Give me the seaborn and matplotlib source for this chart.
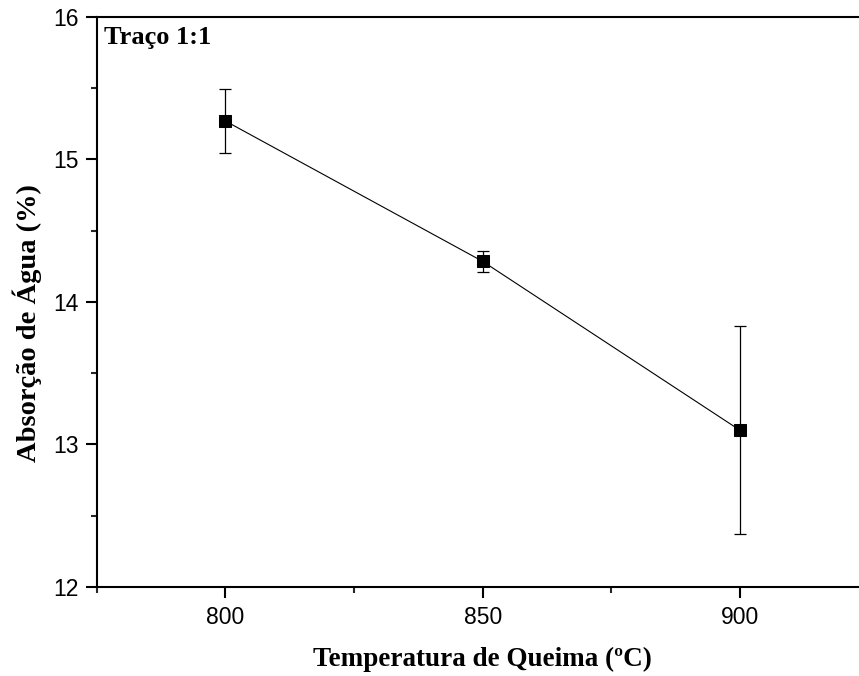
import matplotlib
matplotlib.use("Agg")
import matplotlib.pyplot as plt
from matplotlib.ticker import MultipleLocator
import seaborn as sns
import pandas as pd

# dados
temperatura = [800, 850, 900]
absorcao = [15.27, 14.285, 13.10]
desvio = [0.225, 0.075, 0.73]

df = pd.DataFrame({"temp": temperatura, "abs": absorcao, "err": desvio})

sns.set_style("ticks")
plt.rcParams["font.family"] = ["Liberation Sans", "DejaVu Sans"]
plt.rcParams["text.color"] = "black"
plt.rcParams["axes.labelcolor"] = "black"

fig = plt.figure(figsize=(8.59, 6.76), dpi=100)
ax = fig.add_axes([0.1126, 0.1317, 0.8985, 0.8432])

ax.errorbar(df["temp"], df["abs"], yerr=df["err"], fmt="none",
            ecolor="black", elinewidth=0.9, capsize=4.5, capthick=0.9, zorder=2)
sns.lineplot(data=df, x="temp", y="abs", ax=ax, color="black", linewidth=0.8,
             marker="s", markersize=9, markeredgecolor="black",
             markerfacecolor="black", zorder=3)

ax.set_xlim(775, 925)
ax.set_ylim(12, 16)
ax.xaxis.set_major_locator(MultipleLocator(50))
ax.xaxis.set_minor_locator(MultipleLocator(25))
ax.yaxis.set_major_locator(MultipleLocator(1))
ax.yaxis.set_minor_locator(MultipleLocator(0.5))

for s in ax.spines.values():
    s.set_linewidth(1.5)
    s.set_color("black")

ax.tick_params(which="major", direction="out", length=8, width=1.5,
               labelsize=16.5, colors="black", top=False, right=False)
ax.tick_params(axis="x", which="major", pad=6)
ax.tick_params(axis="y", which="major", pad=5)
ax.tick_params(which="minor", direction="out", length=4, width=1.5,
               top=False, right=False)

serif = ["Liberation Serif", "DejaVu Serif"]
ax.set_xlabel("Temperatura de Queima (ºC)", family=serif, weight="bold", size=19.5)
ax.set_ylabel("Absorção de Água (%)", family=serif, weight="bold", size=20.5)
ax.xaxis.set_label_coords(0.5, -0.105)
ax.yaxis.set_label_coords(-0.071, 0.463)

ax.text(0.01, 0.985, "Traço 1:1", transform=ax.transAxes, ha="left", va="top",
        family=serif, weight="bold", size=19)

fig.savefig("out.png", dpi=100)
